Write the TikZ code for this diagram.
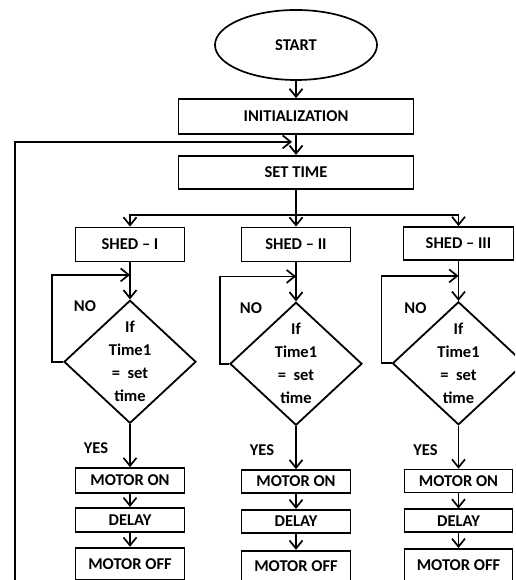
\documentclass[tikz,border=0pt]{standalone}
\usepackage{fontspec}
\setmainfont{Carlito}
\usetikzlibrary{shapes.geometric}
\usetikzlibrary{arrows.meta}
\usetikzlibrary{positioning}
\newcommand{\chartfont}{\fontsize{16.5}{23}\selectfont\bfseries}
\tikzstyle{line} = [draw, line width=1.7pt]
\tikzstyle{flow} = [line, -{Straight Barb[length=8pt,width=13pt]}]
\tikzstyle{terminal} = [ellipse, draw, line width=1.7pt, minimum width=162pt, minimum height=70pt, font=\chartfont]
\tikzstyle{process} = [rectangle, draw, line width=1.8pt, minimum width=109pt, minimum height=34pt, inner sep=0pt, font=\chartfont]
\tikzstyle{wide process} = [process, minimum width=235pt]
\tikzstyle{decision} = [diamond, draw, line width=1.8pt, minimum width=132pt, minimum height=123pt, inner sep=-2pt, align=center, font=\chartfont]
\tikzstyle{answer} = [font=\chartfont]

\begin{document}
\begin{tikzpicture}[x=1pt, y=1pt, every edge/.style={flow}]
  \useasboundingbox (0,0) rectangle (515,580);
  \clip (0,0) rectangle (515,580);
  % main line
  \node[terminal] (start) at (296,535) {START};
  \node[wide process, minimum height=35pt] (init) at (296,463.5) {INITIALIZATION};
  \node[wide process, minimum height=33pt] (settime) [below=20pt of init] {SET TIME};
  \draw[flow] (start) edge (init) (init) edge (settime);
  \coordinate[below=25pt of settime.south] (split);
  \draw[line] (settime) -- (split);
  % shed I
  \node[process] (shedA) at (130,335.5) {SHED -- I};
  \node[decision] (ifA) [below=37pt of shedA] {If\\Time1\\=~~set\\time};
  \node[process, minimum height=25pt] (onA) [below=43pt of ifA] {MOTOR ON};
  \node[process, minimum height=24pt] (delayA) [below=13pt of onA] {DELAY};
  \node[process, minimum height=32pt] (offA) [below=14pt of delayA] {MOTOR OFF};
  \coordinate[below=12pt of offA.south] (outA);
  \node[answer] (noA) at ([xshift=-45pt,yshift=-7pt]ifA.north) {NO};
  \node[answer] (yesA) at ([xshift=-34pt,yshift=-24pt]ifA.south) {YES};
  \draw[flow] (split) -| (shedA);
  \draw[flow] (shedA) edge (ifA) (ifA) edge (onA) (onA) edge (delayA) (delayA) edge (offA) (offA) edge (outA);
  \draw[flow] (ifA.west) -- ++(-11pt,0) |- ([yshift=24.5pt]ifA.north);
  % shed II
  \node[process] (shedB) at (296,335.5) {SHED -- II};
  \node[decision] (ifB) [below=39pt of shedB] {If\\Time1\\=~~set\\time};
  \node[process, minimum height=23pt] (onB) [below=43pt of ifB] {MOTOR ON};
  \node[process, minimum height=23pt] (delayB) [below=15pt of onB] {DELAY};
  \node[process, minimum height=31pt] (offB) [below=16pt of delayB] {MOTOR OFF};
  \coordinate[below=12pt of offB.south] (outB);
  \node[answer] (noB) at ([xshift=-45pt,yshift=-7pt]ifB.north) {NO};
  \node[answer] (yesB) at ([xshift=-34pt,yshift=-24pt]ifB.south) {YES};
  \draw[flow] (split) -- (shedB);
  \draw[flow] (shedB) edge (ifB) (ifB) edge (onB) (onB) edge (delayB) (delayB) edge (offB) (offB) edge (outB);
  \draw[flow] (ifB.west) -- ++(-9pt,0) |- ([yshift=25pt]ifB.north);
  % shed III
  \node[process, minimum width=110pt, minimum height=33pt] (shedC) at (458.5,336.5) {SHED -- III};
  \node[decision] (ifC) [below=40pt of shedC] {If\\Time1\\=~~set\\time};
  \node[process, minimum width=108pt, minimum height=23pt] (onC) [below=43pt of ifC] {MOTOR ON};
  \node[process, minimum width=108pt, minimum height=23pt] (delayC) [below=15pt of onC] {DELAY};
  \node[process, minimum width=108pt, minimum height=32pt] (offC) [below=14.7pt of delayC] {MOTOR OFF};
  \coordinate[below=12pt of offC.south] (outC);
  \node[answer] (noC) at ([xshift=-43pt,yshift=-7pt]ifC.north) {NO};
  \node[answer] (yesC) at ([xshift=-33pt,yshift=-24pt]ifC.south) {YES};
  \draw[flow] (split) -| (shedC);
  \draw[flow] (shedC) edge (ifC) (ifC) edge (onC) (onC) edge (delayC) (delayC) edge (offC) (offC) edge (outC);
  \draw[flow] (ifC.west) -- ++(-10pt,0) |- ([yshift=25pt]ifC.north);
  % feedback to set time
  \coordinate (back) at (15,-10);
  \draw[flow] (back) |- ([xshift=-4pt,yshift=13pt]settime.north);
\end{tikzpicture}
\end{document}
